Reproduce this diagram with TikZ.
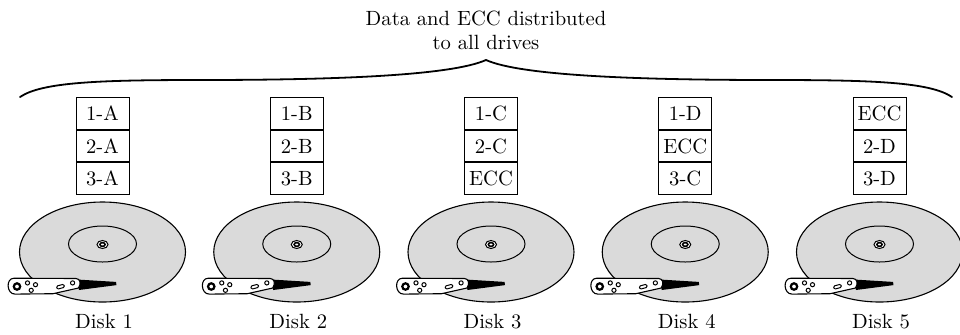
\documentclass[tikz,border=0pt]{standalone}
\definecolor{platterGray}{RGB}{218,218,218}
\begin{document}
\begin{tikzpicture}[x=0.5pt,y=-0.5pt,
  txt/.style={font=\fontsize{10.3}{12}\selectfont, inner sep=0pt},
  cell/.style={txt, draw, line width=0.5pt, minimum width=26.5pt,
    minimum height=15.85pt, anchor=north},
  platter/.style={draw, line width=0.55pt, fill=platterGray},
  thinline/.style={draw, line width=0.5pt},
  arm/.style={draw, line width=0.55pt, fill=white, line join=round},
  bracepath/.style={draw, line width=0.9pt, line cap=round},
]
\useasboundingbox (0,0) rectangle (960,334);

% heading
\node[txt, align=center] (title) at (486,30) {Data and ECC distributed\\to all drives};

% brace over all drives
\coordinate (bl) at (20,97);
\coordinate (bm) at (486,60);
\coordinate (br) at (952,97);
\draw[bracepath] (bl) .. controls (42,82) and (100,80) .. (200,80)
  .. controls (330,80) and (450,76) .. (bm)
  .. controls (522,76) and (642,80) .. (772,80)
  .. controls (872,80) and (930,82) .. (br);

% drives with their stripe blocks
\foreach \i/\cx/\ra/\rb/\rc in {1/102.5/1-A/2-A/3-A, 2/296.75/1-B/2-B/3-B,
    3/491/1-C/2-C/ECC, 4/685.25/1-D/ECC/3-C, 5/879.5/ECC/2-D/3-D} {
  \node[cell] (b\i a) at (\cx,97) {\ra};
  \node[cell] (b\i b) at (b\i a.south) {\rb};
  \node[cell] (b\i c) at (b\i b.south) {\rc};

  % platter, track and spindle
  \path[platter] (\cx,252) ellipse[x radius=83, y radius=50];
  \path[thinline] (\cx,244) ellipse[x radius=34, y radius=18];
  \path[thinline, fill=white] (\cx,244.5) ellipse[x radius=5.5, y radius=4];
  \path[draw, line width=0.8pt] (\cx,244.5) ellipse[x radius=2.6, y radius=1.9];

  % actuator arm with its head
  \begin{scope}[shift={(\cx-85.5,286.5)}]
    \fill (60,-7) -- (99,-4.6) -- (99.5,-1.4) -- (62,3.5) -- cycle;
    \path[arm] (-3,-8.3) -- (59,-8) .. controls (63,-8) and (64.5,-3) .. (61.5,1.5)
      -- (36,7.2) -- (-2,7.6) .. controls (-10.5,7.6) and (-11.5,-8.3) .. cycle;
    \path[draw, line width=1.1pt, fill=white] (0,0) circle[radius=3.2];
    \foreach \hx/\hy in {10.5/-3.6, 18.5/-1.8, 14.2/3.8, 55.6/-3.6}
      \path[thinline] (\hx,\hy) circle[radius=2.1];
    \begin{scope}[shift={(43.5,0.2)}, rotate=15]
      \path[thinline, rounded corners=0.6pt] (-3.8,-1.6) rectangle (3.8,1.6);
    \end{scope}
  \end{scope}

  \node[txt, anchor=base] (d\i) at (\cx+1.5,328) {Disk \i};
}
\end{tikzpicture}
\end{document}
